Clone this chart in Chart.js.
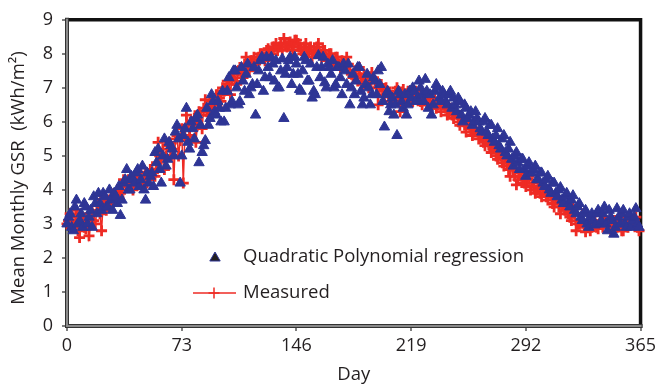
<!DOCTYPE html>
<html>
<head>
<meta charset="utf-8">
<script src="https://cdn.jsdelivr.net/npm/chart.js@4.4.1/dist/chart.umd.min.js"></script>
<style>
  html, body { margin: 0; padding: 0; background: #fff; }
  #wrap { width: 660px; height: 387px; position: relative; }
</style>
</head>
<body>
<div id="wrap"><canvas id="myChart" width="660" height="387"></canvas></div>
<script>
(function() {
    'use strict';

    var xTicks = [0, 73, 146, 219, 292, 365];
    var yTicks = [0, 1, 2, 3, 4, 5, 6, 7, 8, 9];

    // quadratic polynomial regression (blue triangles), even days 0..364
    var regressionEven = [
        3.0, 3.3, 2.8, 3.7, 3.1, 2.9, 3.5, 3.2, 2.9, 3.6,
        3.9, 3.4, 3.8, 3.5, 3.7, 3.9, 3.6, 3.25, 4.2, 4.6,
        4.0, 4.3, 4.5, 4.1, 4.7, 3.7, 4.2, 4.5, 5.1, 5.2,
        4.2, 5.5, 4.9, 5.3, 5.0, 5.9, 4.2, 5.6, 6.4, 5.2,
        5.8, 6.1, 4.8, 5.1, 5.45, 5.9, 6.8, 6.3, 6.6, 6.0,
        6.0, 6.9, 6.5, 7.5, 7.0, 6.6, 7.2, 7.4, 6.8, 7.1,
        6.2, 7.5, 7.9, 7.3, 7.6, 7.9, 7.2, 7.0, 7.5, 6.1,
        7.6, 7.9, 7.4, 7.7, 6.95, 7.5, 7.8, 7.2, 6.7, 6.8,
        7.95, 7.6, 7.15, 7.7, 7.4, 7.0, 7.6, 7.3, 7.7, 7.1,
        6.5, 7.4, 7.2, 7.6, 6.5, 7.1, 7.0, 6.8, 7.2, 7.5,
        7.6, 5.85, 6.9, 6.5, 6.2, 5.6, 6.8, 6.4, 6.2, 6.9,
        7.0, 6.6, 7.2, 6.8, 7.25, 6.4, 6.2, 6.9, 7.0, 6.6,
        6.8, 6.5, 6.9, 6.7, 6.3, 6.6, 6.0, 6.4, 6.2, 5.9,
        6.3, 6.0, 5.7, 6.1, 5.6, 5.9, 5.4, 5.8, 5.2, 5.6,
        5.0, 5.4, 4.7, 5.1, 4.6, 4.9, 4.4, 4.8, 4.5, 4.7,
        4.3, 4.5, 4.1, 4.4, 3.9, 4.2, 3.8, 4.07, 3.6, 3.9,
        3.5, 3.83, 3.3, 3.6, 3.1, 3.4, 2.9, 3.3, 2.97, 3.4,
        3.1, 3.5, 2.8, 3.2, 2.7, 3.45, 3.0, 3.4, 2.9, 3.3,
        3.1, 3.45, 2.9
    ];

    // regression, odd days 1..363
    var regressionOdd = [
        3.2, 2.9, 3.5, 3.0, 3.3, 3.6, 3.0, 3.4, 3.8, 3.3,
        3.6, 3.9, 3.5, 4.0, 3.4, 3.8, 4.1, 3.7, 4.3, 4.0,
        4.4, 4.2, 4.6, 4.3, 4.0, 4.5, 4.4, 4.1, 4.8, 4.6,
        5.0, 4.7, 5.4, 5.2, 5.7, 5.5, 5.0, 5.8, 5.4, 6.0,
        5.5, 6.2, 5.9, 5.3, 6.4, 6.1, 6.6, 6.2, 6.4, 6.9,
        6.4, 7.3, 6.6, 7.5, 6.5, 7.6, 6.9, 7.7, 7.0, 7.6,
        7.1, 7.8, 6.9, 7.9, 7.3, 7.7, 7.8, 7.0, 7.85, 7.4,
        7.8, 7.1, 7.9, 7.4, 6.9, 7.9, 7.2, 7.7, 6.9, 7.6,
        7.3, 7.9, 7.0, 7.6, 7.8, 7.1, 7.6, 6.8, 7.5, 7.7,
        7.0, 6.8, 7.6, 6.9, 6.7, 7.4, 6.5, 7.3, 6.8, 7.1,
        6.6, 6.8, 6.3, 6.7, 6.5, 6.9, 6.6, 6.8, 6.5, 6.7,
        6.9, 6.7, 7.0, 6.6, 6.9, 6.8, 6.5, 7.1, 6.7, 6.9,
        6.6, 6.8, 6.4, 6.5, 6.7, 6.2, 6.5, 6.1, 6.3, 6.0,
        6.1, 5.8, 6.0, 5.7, 5.9, 5.5, 5.6, 5.3, 5.5, 5.1,
        5.2, 4.9, 5.0, 4.8, 4.9, 4.6, 4.7, 4.5, 4.6, 4.3,
        4.5, 4.2, 4.3, 4.0, 4.2, 3.9, 4.0, 3.7, 3.8, 3.6,
        3.7, 3.4, 3.5, 3.2, 3.3, 3.0, 3.2, 3.1, 3.3, 3.0,
        3.3, 3.0, 3.4, 3.1, 2.9, 3.2, 3.3, 3.0, 3.2, 2.9,
        3.2, 3.0
    ];

    // measured GSR (red crosses with line), even days 0..364
    var measuredEven = [
        3.0, 3.3, 2.9, 3.4, 2.6, 3.1, 2.85, 2.65, 3.35, 3.0,
        3.6, 2.8, 3.8, 3.5, 3.8, 3.7, 4.0, 3.9, 4.3, 4.1,
        4.2, 4.0, 4.4, 4.3, 4.1, 4.5, 4.3, 4.6, 4.4, 5.4,
        4.9, 4.6, 5.3, 5.0, 4.3, 5.6, 5.45, 4.2, 6.2, 5.6,
        6.0, 5.4, 6.3, 5.8, 6.65, 6.2, 6.5, 6.4, 6.8, 6.6,
        6.9, 7.2, 6.8, 7.4, 7.1, 7.6, 7.3, 7.9, 7.5, 7.8,
        7.7, 7.9, 8.0, 7.8, 8.15, 8.0, 8.2, 8.1, 8.3, 8.45,
        8.2, 8.35, 8.1, 8.4, 8.2, 8.0, 8.3, 8.1, 7.9, 8.0,
        8.3, 7.9, 8.1, 7.8, 8.0, 7.7, 7.9, 7.6, 7.75, 7.9,
        7.5, 7.3, 7.4, 7.6, 7.1, 7.3, 7.0, 7.45, 7.2, 6.5,
        7.1, 6.8, 6.9, 6.6, 6.7, 7.0, 6.3, 6.95, 6.7, 6.8,
        6.6, 6.9, 6.7, 6.5, 6.8, 6.6, 6.4, 6.7, 6.5, 6.3,
        6.5, 6.2, 6.4, 6.1, 6.3, 5.9, 6.0, 5.7, 5.9, 5.6,
        5.8, 5.5, 5.6, 5.3, 5.4, 5.1, 5.2, 4.9, 5.0, 4.7,
        4.8, 4.4, 4.6, 4.15, 4.5, 4.3, 4.1, 4.4, 4.2, 3.9,
        4.1, 3.8, 4.0, 3.7, 3.9, 3.5, 3.8, 3.3, 3.6, 3.4,
        3.2, 3.5, 2.8, 3.0, 3.3, 2.77, 3.0, 2.9, 3.1, 2.86,
        3.0, 3.2, 2.9, 2.8, 3.1, 2.9, 3.2, 2.8, 3.0, 3.1,
        3.0, 3.2, 2.8
    ];

    // measured, odd days 1..363
    var measuredOdd = [
        3.1, 3.2, 3.0, 2.8, 3.3, 2.9, 3.2, 3.0, 3.1, 3.4,
        3.3, 3.6, 3.4, 3.7, 3.6, 3.9, 3.8, 4.0, 4.2, 4.3,
        4.1, 4.3, 4.2, 4.5, 4.4, 4.2, 4.6, 4.5, 4.8, 5.0,
        5.2, 5.0, 5.4, 5.2, 5.5, 5.0, 5.8, 5.6, 5.9, 6.0,
        6.1, 5.9, 6.2, 6.4, 6.3, 6.6, 6.5, 6.8, 6.7, 7.0,
        7.0, 7.1, 7.3, 7.2, 7.5, 7.4, 7.7, 7.6, 7.8, 7.9,
        7.8, 8.0, 7.9, 8.1, 8.0, 8.2, 8.3, 8.2, 8.1, 8.3,
        8.3, 8.2, 8.4, 8.3, 8.1, 8.2, 8.0, 8.2, 8.1, 8.2,
        8.0, 8.1, 7.9, 8.0, 7.8, 7.9, 7.7, 7.8, 7.6, 7.7,
        7.4, 7.5, 7.2, 7.3, 7.4, 7.1, 7.2, 7.3, 7.0, 7.1,
        6.9, 7.0, 6.8, 6.7, 6.9, 6.6, 6.8, 6.7, 6.9, 6.6,
        6.8, 6.7, 6.6, 6.8, 6.5, 6.7, 6.6, 6.4, 6.6, 6.5,
        6.4, 6.3, 6.2, 6.3, 6.0, 6.1, 5.9, 6.0, 5.8, 5.7,
        5.7, 5.6, 5.4, 5.5, 5.3, 5.2, 5.0, 5.1, 4.8, 4.9,
        4.6, 4.7, 4.4, 4.3, 4.4, 4.2, 4.3, 4.0, 4.1, 4.0,
        3.9, 4.0, 3.8, 3.9, 3.6, 3.7, 3.5, 3.6, 3.4, 3.3,
        3.1, 3.3, 3.0, 3.1, 2.9, 3.0, 2.8, 3.1, 2.9, 3.0,
        2.9, 3.1, 3.0, 2.9, 3.1, 3.0, 2.8, 3.1, 2.9, 3.0,
        3.1, 2.9
    ];

    var blue = '#2E3595';
    var red = '#EE2B24';
    var textColor = '#231F20';
    var fontFamily = '"Open Sans", sans-serif';

    // merge even and odd day readings into day order
    var toPoints = function(even, odd) {
        var pts = [];
        for (var i = 0; i < even.length; i++) {
            pts.push({ x: 2 * i, y: even[i] });
            if (i < odd.length) pts.push({ x: 2 * i + 1, y: odd[i] });
        }
        return pts;
    };

    //frame: gray left/bottom axes, black top/right lines
    var framePlugin = {
        id: 'frame',
        beforeDatasetsDraw: function(chart) {
            var a = chart.chartArea;
            var c = chart.ctx;
            c.save();
            c.lineCap = 'square';
            c.strokeStyle = '#111';
            c.lineWidth = 3.5;
            c.beginPath();
            c.moveTo(a.left, a.top);
            c.lineTo(a.right, a.top);
            c.lineTo(a.right, a.bottom);
            c.stroke();
            c.strokeStyle = '#333';
            c.lineWidth = 4;
            c.beginPath();
            c.moveTo(a.left, a.top);
            c.lineTo(a.left, a.bottom);
            c.lineTo(a.right, a.bottom);
            c.stroke();
            c.strokeStyle = '#8a8a8a';
            c.lineWidth = 2;
            c.stroke();
            c.restore();
        }
    };

    //legend and y title drawn by hand
    var legendPlugin = {
        id: 'innerLegend',
        afterDraw: function(chart) {
            var c = chart.ctx;
            c.save();
            c.font = '18.5px ' + fontFamily;
            c.fillStyle = textColor;
            c.textBaseline = 'middle';
            c.fillText('Quadratic Polynomial regression', 243, 257);
            c.fillText('Measured', 243, 293);
            Chart.helpers.drawPoint(c, {
                pointStyle: 'triangle', radius: 6, rotation: 0,
                borderWidth: 1, backgroundColor: blue, borderColor: blue
            }, 215, 258);
            c.strokeStyle = red;
            c.lineWidth = 1.5;
            c.beginPath();
            c.moveTo(193, 293);
            c.lineTo(236, 293);
            c.stroke();
            Chart.helpers.drawPoint(c, {
                pointStyle: 'cross', radius: 5.5, rotation: 0,
                borderWidth: 2.8, borderColor: red
            }, 214, 293);

            c.translate(19, 178);
            c.rotate(-Math.PI / 2);
            c.textAlign = 'center';
            c.fillText('Mean Monthly GSR  (kWh/m\u00B2)', 0, 0);
            c.restore();
        }
    };

    var ctx = document.getElementById('myChart');
    var chart = new Chart(ctx, {
        type: 'scatter',
        data: {
            datasets: [{
                label: 'Quadratic Polynomial regression',
                data: toPoints(regressionEven, regressionOdd),
                order: 0,
                pointStyle: 'triangle',
                pointRadius: 6,
                pointBackgroundColor: blue,
                pointBorderColor: blue,
                pointBorderWidth: 1,
                showLine: false,
                clip: false
            },
            {
                label: 'Measured',
                data: toPoints(measuredEven, measuredOdd),
                order: 1,
                pointStyle: 'cross',
                pointRadius: 5.5,
                pointBorderColor: red,
                pointBorderWidth: 2.8,
                borderColor: red,
                borderWidth: 1.5,
                showLine: true,
                clip: false
            }]
        },
        options: {
            responsive: false,
            animation: false,
            events: [],
            layout: { padding: { left: 0, right: 17, top: 14, bottom: 0 } },
            plugins: {
                legend: { display: false },
                tooltip: { enabled: false }
            },
            scales: {
                x: {
                    type: 'linear',
                    min: 0,
                    max: 365,
                    afterBuildTicks: function(scale) {
                        scale.ticks = xTicks.map(function(v) { return { value: v }; });
                    },
                    afterFit: function(scale) { scale.height = 61; },
                    border: { display: false },
                    grid: {
                        drawOnChartArea: false,
                        drawTicks: true,
                        tickLength: 5,
                        color: '#7f7f7f',
                        lineWidth: 2
                    },
                    ticks: {
                        color: textColor,
                        padding: 4,
                        maxRotation: 0,
                        font: { family: fontFamily, size: 18 }
                    },
                    title: {
                        display: true,
                        text: 'Day',
                        color: textColor,
                        padding: { top: 0, bottom: 1 },
                        font: { family: fontFamily, size: 18.5 }
                    }
                },
                y: {
                    min: 0,
                    max: 9,
                    afterBuildTicks: function(scale) {
                        scale.ticks = yTicks.map(function(v) { return { value: v }; });
                    },
                    afterFit: function(scale) { scale.width = 67; },
                    border: { display: false },
                    grid: {
                        drawOnChartArea: false,
                        drawTicks: true,
                        tickLength: 5,
                        color: '#7f7f7f',
                        lineWidth: 2
                    },
                    ticks: {
                        color: textColor,
                        padding: 9,
                        font: { family: fontFamily, size: 18 }
                    }
                }
            }
        },
        plugins: [framePlugin, legendPlugin]
    });
})();
</script>
</body>
</html>
